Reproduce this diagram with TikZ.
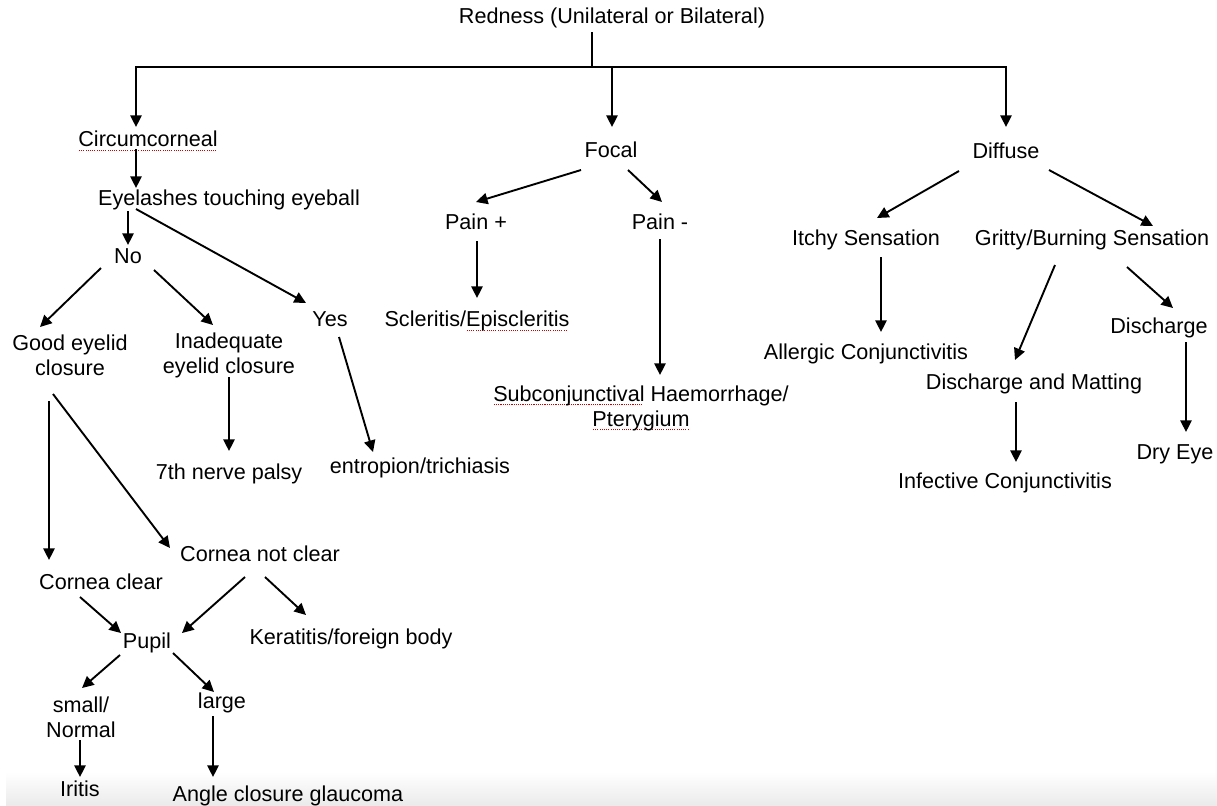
\documentclass[tikz,border=0pt]{standalone}
\usepackage{fontspec}
\setmainfont{Liberation Sans}
\usetikzlibrary{arrows.meta}
% Red dotted underline of the words flagged by the spell checker.
\newcommand\spelled[1]{\leavevmode\setbox0\hbox{#1}%
  \rlap{\lower2pt\hbox to\wd0{\color{red!80!black}%
    \leaders\hbox to1.1pt{\hss\rule{0.55pt}{0.55pt}\hss}\hfill}}\box0\relax}
\tikzset{
  lbl/.style={inner sep=1pt, font=\fontsize{10.8}{12.5}\selectfont,
    text height=7.8pt, text depth=2.2pt},
  lbltwo/.style={inner sep=1pt, font=\fontsize{10.8}{12.5}\selectfont,
    align=center},
  ln/.style={line width=0.95pt},
  arr/.style={ln, -{Triangle[length=5.8pt, width=5.6pt]}}
}
\begin{document}
\begin{tikzpicture}[x=0.5pt, y=-0.5pt]
  \useasboundingbox (0,0) rectangle (1217,805);
  % Shade the strip along the bottom edge.
  \shade[top color=white, bottom color=black!8] (6,772) rectangle (1217,805);
  % Place the root and the three kinds of redness.
  \node[lbl] (red) at (612,18) {Redness (Unilateral or Bilateral)};
  \node[lbl] (circ) at (148,141) {\spelled{Circumcorneal}};
  \node[lbl] (focal) at (611,152) {Focal};
  \node[lbl] (diffuse) at (1006,153) {Diffuse};
  \coordinate (split) at (592,67);
  % Place the circumcorneal branch.
  \node[lbl] (eyel) at (229,200) {Eyelashes touching eyeball};
  \node[lbl] (no) at (128,258) {No};
  \node[lbl] (yes) at (330,321) {Yes};
  \node[lbltwo] (good) at (70,355) {Good eyelid\\closure};
  \node[lbltwo] (inadq) at (229,355) {Inadequate\\eyelid closure};
  \node[lbl] (palsy) at (229,474) {7th nerve palsy};
  \node[lbl] (entrop) at (420,468) {entropion/trichiasis};
  \node[lbl] (notclear) at (260,556) {Cornea not clear};
  \node[lbl] (clear) at (101,584) {Cornea clear};
  \node[lbl] (pupil) at (147,643) {Pupil};
  \node[lbl] (kerat) at (351,639) {Keratitis/foreign body};
  \node[lbltwo] (small) at (81,717) {small/\\Normal};
  \node[lbl] (large) at (222,703) {large};
  \node[lbl] (iritis) at (80,791) {Iritis};
  \node[lbl] (angle) at (288,796) {Angle closure glaucoma};
  % Place the focal branch.
  \node[lbl] (painp) at (476,224) {Pain +};
  \node[lbl] (painm) at (660,224) {Pain -};
  \node[lbl] (scler) at (477,321) {Scleritis/\spelled{Episcleritis}};
  \node[lbltwo] (subconj) at (641,408)
    {\spelled{Subconjunctival} Haemorrhage/\\\spelled{Pterygium}};
  % Place the diffuse branch.
  \node[lbl] (itchy) at (866,240) {Itchy Sensation};
  \node[lbl] (gritty) at (1092,240) {Gritty/Burning Sensation};
  \node[lbl] (allergic) at (866,354) {Allergic Conjunctivitis};
  \node[lbl] (dis) at (1159,328) {Discharge};
  \node[lbl] (dmat) at (1034,384) {Discharge and Matting};
  \node[lbl] (infect) at (1005,483) {Infective Conjunctivitis};
  \node[lbl] (dry) at (1175,454) {Dry Eye};
  % Draw the top split.
  \draw[ln] ([shift={(-20,14)}]red.center) -- (split);
  \draw[arr] (split) -| ([shift={(-12,-14)}]circ.center);
  \draw[arr] (split) -| ([shift={(1,-25)}]focal.center);
  \draw[arr] (split) -| ([shift={(0,-26)}]diffuse.center);
  % Connect the circumcorneal branch.
  \draw[arr] ([shift={(-12,8)}]circ.center) -- ([shift={(-93,-12)}]eyel.center);
  \draw[arr] ([shift={(-101,11)}]eyel.center) -- ([shift={(0,-13)}]no.center);
  \draw[arr] ([shift={(-93,9)}]eyel.center) -- ([shift={(-24,-18)}]yes.center);
  \draw[arr] ([shift={(-27,10)}]no.center) -- ([shift={(-30,-28)}]good.center);
  \draw[arr] ([shift={(26,12)}]no.center) -- ([shift={(-16,-30)}]inadq.center);
  \draw[arr] ([shift={(9,16)}]yes.center) -- ([shift={(-47,-16)}]entrop.center);
  \draw[arr] ([shift={(0,22)}]inadq.center) -- ([shift={(0,-23)}]palsy.center);
  \draw[arr] ([shift={(-21,46)}]good.center) -- ([shift={(-52,-24)}]clear.center);
  \draw[arr] ([shift={(-17,39)}]good.center) -- ([shift={(-90,-8)}]notclear.center);
  \draw[arr] ([shift={(-21,13)}]clear.center) -- ([shift={(-26,-10)}]pupil.center);
  \draw[arr] ([shift={(-15,21)}]notclear.center) -- ([shift={(35,-10)}]pupil.center);
  \draw[arr] ([shift={(5,21)}]notclear.center) -- ([shift={(-45,-24)}]kerat.center);
  \draw[arr] ([shift={(-27,12)}]pupil.center) -- ([shift={(1,-29)}]small.center);
  \draw[arr] ([shift={(26,10)}]pupil.center) -- ([shift={(-8,-11)}]large.center);
  \draw[arr] ([shift={(-1,23)}]small.center) -- ([shift={(0,-14)}]iritis.center);
  \draw[arr] ([shift={(-9,13)}]large.center) -- ([shift={(-75,-19)}]angle.center);
  % Connect the focal branch.
  \draw[arr] ([shift={(-30,18)}]focal.center) -- ([shift={(0,-22)}]painp.center);
  \draw[arr] ([shift={(17,18)}]focal.center) -- ([shift={(2,-22)}]painm.center);
  \draw[arr] ([shift={(1,17)}]painp.center) -- ([shift={(0,-23)}]scler.center);
  \draw[arr] ([shift={(0,15)}]painm.center) -- ([shift={(19,-33)}]subconj.center);
  % Connect the diffuse branch.
  \draw[arr] ([shift={(-47,18)}]diffuse.center) -- ([shift={(11,-22)}]itchy.center);
  \draw[arr] ([shift={(43,17)}]diffuse.center) -- ([shift={(61,-14)}]gritty.center);
  \draw[arr] ([shift={(15,17)}]itchy.center) -- ([shift={(15,-22)}]allergic.center);
  \draw[arr] ([shift={(-37,25)}]gritty.center) -- ([shift={(-19,-24)}]dmat.center);
  \draw[arr] ([shift={(35,27)}]gritty.center) -- ([shift={(14,-20)}]dis.center);
  \draw[arr] ([shift={(-18,18)}]dmat.center) -- ([shift={(11,-21)}]infect.center);
  \draw[arr] ([shift={(27,14)}]dis.center) -- ([shift={(11,-22)}]dry.center);
\end{tikzpicture}
\end{document}
